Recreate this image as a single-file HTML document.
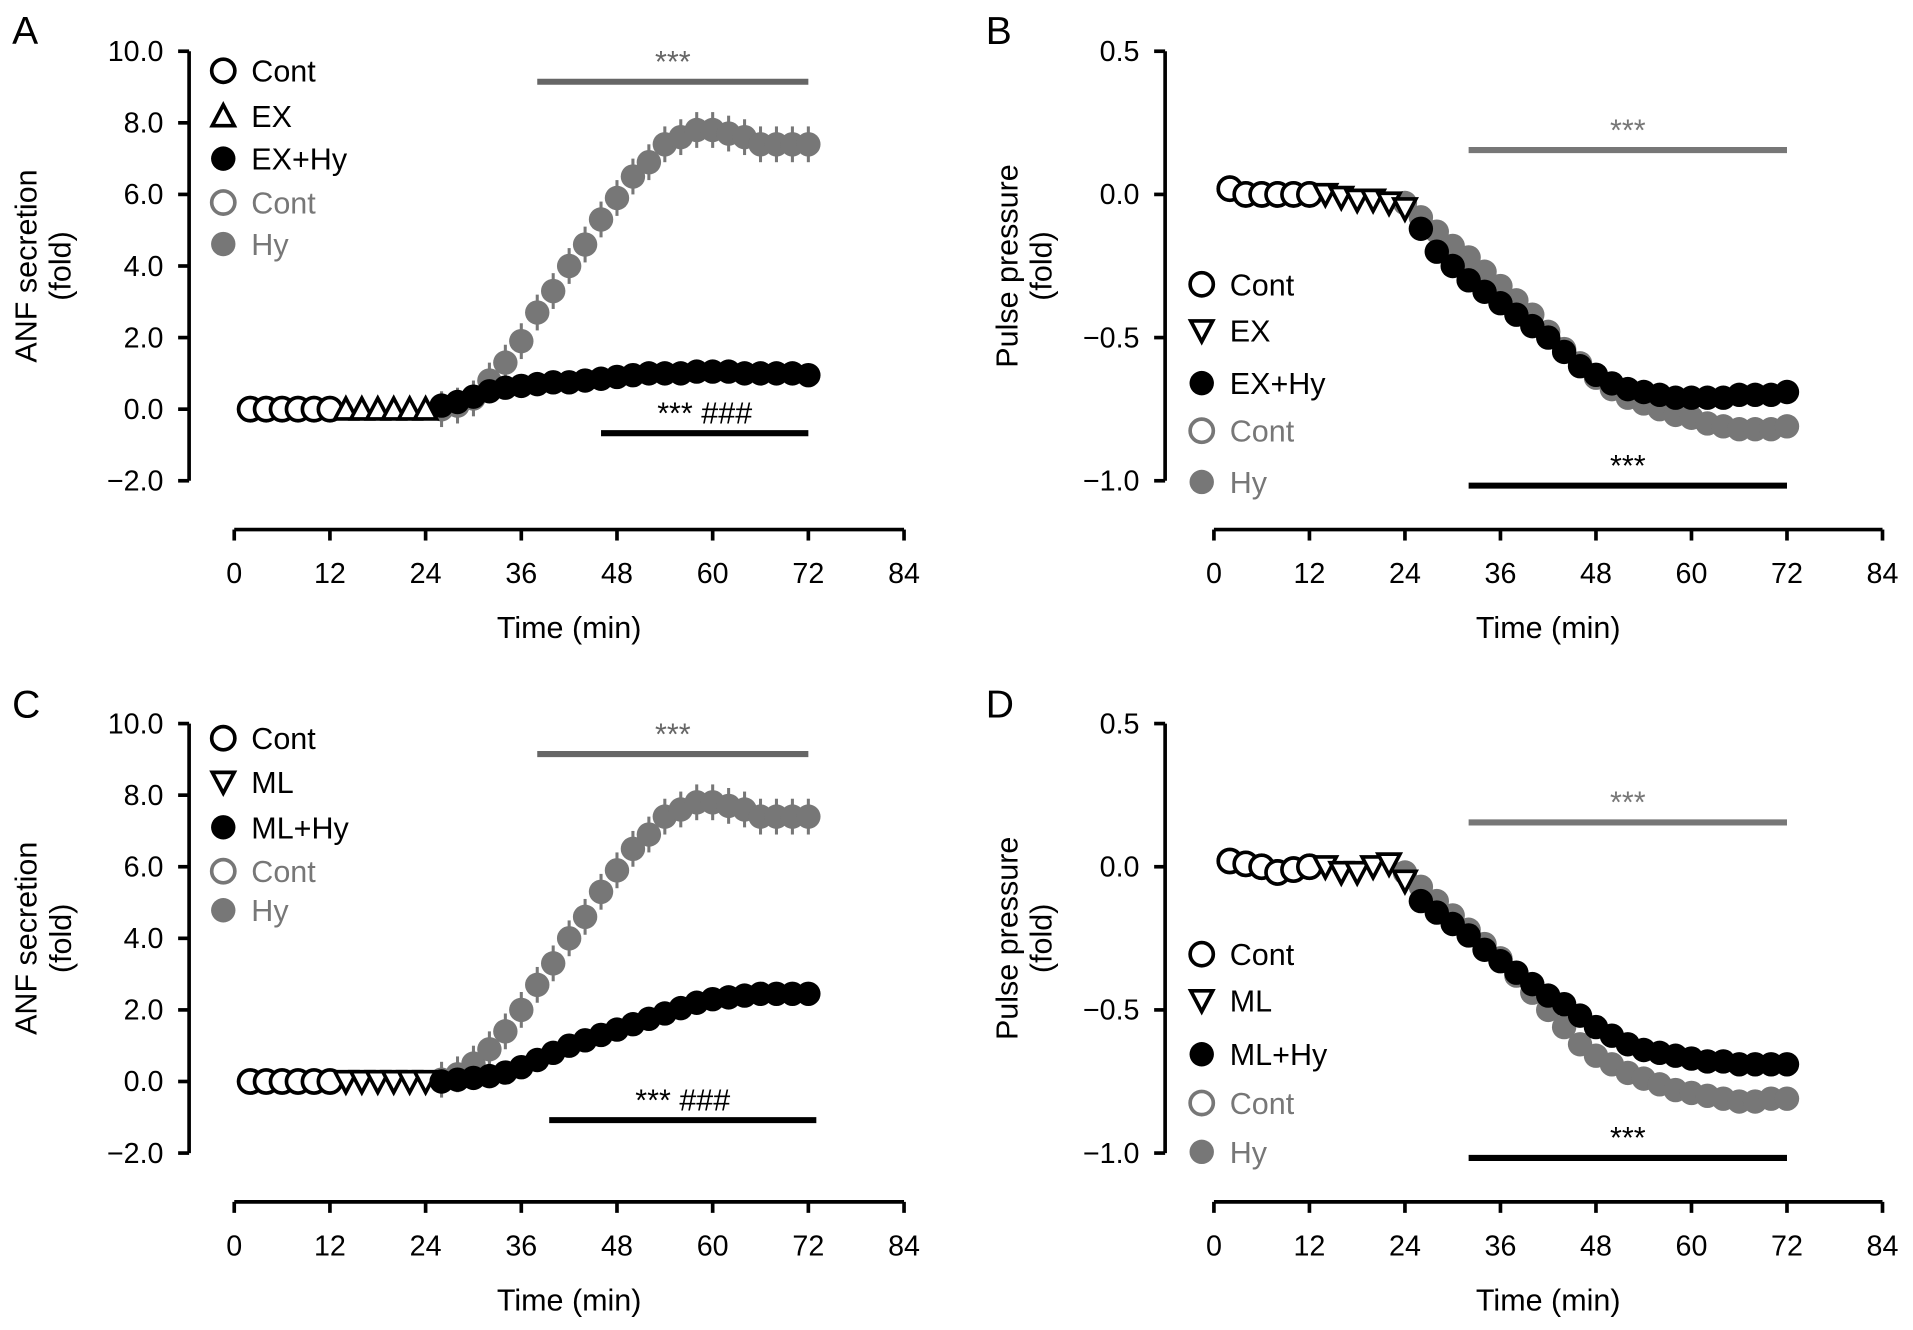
<!DOCTYPE html>
<html><head><meta charset="utf-8"><style>
html,body{margin:0;padding:0;background:#fff}
svg{display:block}
text{font-family:"Liberation Sans",Arial,sans-serif}
</style></head><body>
<svg id="fig" width="1913" height="1330" viewBox="0 0 1568 1090" preserveAspectRatio="none" xmlns="http://www.w3.org/2000/svg"></svg>
<script>
// ---- data ----
const tCont = [2,4,6,8,10,12];
const tDrug = [14,16,18,20,22,24];
const tHy = [26,28,30,32,34,36,38,40,42,44,46,48,50,52,54,56,58,60,62,64,66,68,70,72];
const tHyB = [24,26,28,30,32,34,36,38,40,42,44,46,48,50,52,54,56,58,60,62,64,66,68,70,72];

const aCont = [0,0,0,0,0,0];
const aEX = [0,0,0,0,0,0];
const aEXHy = [0.1,0.2,0.35,0.5,0.6,0.65,0.7,0.75,0.75,0.8,0.85,0.9,0.95,1.0,1.0,1.0,1.05,1.05,1.05,1.0,1.0,1.0,1.0,0.95];
const aHy = [0,0.1,0.3,0.8,1.3,1.9,2.7,3.3,4.0,4.6,5.3,5.9,6.5,6.9,7.4,7.6,7.8,7.8,7.7,7.6,7.4,7.4,7.4,7.4];

const cCont = [0,0,0,0,0,0];
const cML = [0,0,0,0,0,0];
const cMLHy = [0,0.05,0.1,0.15,0.25,0.4,0.6,0.8,1.0,1.15,1.3,1.45,1.6,1.75,1.9,2.05,2.2,2.3,2.35,2.4,2.45,2.45,2.45,2.45];
const cHy = [0.05,0.2,0.5,0.9,1.4,2.0,2.7,3.3,4.0,4.6,5.3,5.9,6.5,6.9,7.4,7.6,7.8,7.8,7.7,7.6,7.4,7.4,7.4,7.4];

const bCont = [0.02,0.0,0.0,0.0,0.0,0.0];
const bEX = [0.0,-0.01,-0.02,-0.02,-0.03,-0.05];
const bEXHy = [-0.12,-0.2,-0.25,-0.3,-0.34,-0.38,-0.42,-0.46,-0.5,-0.55,-0.6,-0.63,-0.66,-0.68,-0.69,-0.7,-0.71,-0.71,-0.71,-0.71,-0.7,-0.7,-0.7,-0.69];
const bHy = [-0.03,-0.08,-0.13,-0.18,-0.22,-0.27,-0.32,-0.37,-0.42,-0.48,-0.54,-0.59,-0.64,-0.68,-0.71,-0.73,-0.75,-0.77,-0.78,-0.8,-0.81,-0.82,-0.82,-0.82,-0.81];

const dCont = [0.02,0.01,0.0,-0.02,-0.01,0.0];
const dML = [0.0,-0.02,-0.02,0.0,0.01,-0.05];
const dMLHy = [-0.12,-0.16,-0.2,-0.24,-0.29,-0.33,-0.37,-0.41,-0.45,-0.48,-0.52,-0.56,-0.59,-0.62,-0.64,-0.65,-0.66,-0.67,-0.68,-0.68,-0.69,-0.69,-0.69,-0.69];
const dHy = [-0.02,-0.07,-0.12,-0.17,-0.22,-0.27,-0.32,-0.38,-0.44,-0.5,-0.56,-0.62,-0.66,-0.69,-0.72,-0.74,-0.76,-0.78,-0.79,-0.8,-0.81,-0.82,-0.82,-0.81,-0.81];

const xTicks = [0,12,24,36,48,60,72,84];
const anfTicks = [10,8,6,4,2,0,-2];
const ppTicks = [0.5,0,-0.5,-1.0];

const NS="http://www.w3.org/2000/svg";
const svg=document.getElementById('fig');
function mk(tag,attrs,parent){const e=document.createElementNS(NS,tag);for(const k in attrs)e.setAttribute(k,attrs[k]);(parent||svg).appendChild(e);return e;}
function txt(s,attrs,parent){const e=mk('text',attrs,parent);e.textContent=s;return e;}

function panel(cfg){
  const g=mk('g',{});
  
  
  const X=t=>cfg.x0+(t/84)*(cfg.x84-cfg.x0);
  const Y=v=>cfg.yTop+(cfg.ymax-v)/(cfg.ymax-cfg.ymin)*(cfg.yBot-cfg.yTop);
  const lab=txt(cfg.letter,{x:cfg.lx,y:cfg.ly,'font-size':32},g);
  
  const ya=mk('g',{},g);
  mk('line',{x1:cfg.ax,y1:Y(cfg.ymax),x2:cfg.ax,y2:Y(cfg.ymin),stroke:'#000','stroke-width':3},ya);
  cfg.yticks.forEach(v=>{
    mk('line',{x1:cfg.ax-9,y1:Y(v),x2:cfg.ax,y2:Y(v),stroke:'#000','stroke-width':3},ya);
    const s=(v<0?'\u2212':'')+Math.abs(v).toFixed(1);
    const t=txt(s,{x:cfg.ax-21,y:Y(v)+8,'font-size':23.5,'text-anchor':'end'},ya);
    
  });
  const cy=(Y(cfg.ymax)+Y(cfg.ymin))/2;
  const yt=mk('g',{},g);
  txt(cfg.ytitle,{x:cfg.tx,y:cy+cfg.tdy,'font-size':25,'text-anchor':'middle',transform:`rotate(-90 ${cfg.tx} ${cy+cfg.tdy})`},yt);
  txt('(fold)',{x:cfg.tx+28,y:cy+cfg.tdy,'font-size':25,'text-anchor':'middle',transform:`rotate(-90 ${cfg.tx+28} ${cy+cfg.tdy})`},yt);
  const xa=mk('g',{},g);
  mk('line',{x1:X(0),y1:cfg.xay,x2:X(84),y2:cfg.xay,stroke:'#000','stroke-width':3},xa);
  xTicks.forEach(t=>{
    mk('line',{x1:X(t),y1:cfg.xay,x2:X(t),y2:cfg.xay+9,stroke:'#000','stroke-width':3},xa);
    const e=txt(String(t),{x:X(t),y:cfg.xay+44,'font-size':23.5,'text-anchor':'middle'},xa);
    
  });
  const xt=txt('Time (min)',{x:(X(0)+X(84))/2,y:cfg.xay+89,'font-size':25,'text-anchor':'middle'},g);
  
  cfg.sig.forEach(s=>{
    const sg=mk('g',{},g);
    mk('line',{x1:X(s.t0),y1:s.y,x2:X(s.t1),y2:s.y,stroke:s.c,'stroke-width':5},sg);
    txt(s.label,{x:(X(s.t0)+X(s.t1))/2+(s.dx||0),y:s.y-8,'font-size':25,'text-anchor':'middle',fill:s.c},sg);
  });
  const R=9.5;
  function marker(par,shape,x,y,col){
    if(shape==='open') return mk('circle',{cx:x,cy:y,r:R,fill:'#fff',stroke:col,'stroke-width':3},par);
    if(shape==='fill') return mk('circle',{cx:x,cy:y,r:R+0.5,fill:col},par);
    if(shape==='tri') return mk('polygon',{points:`${x-9},${y+8} ${x+9},${y+8} ${x},${y-9}`,fill:'#fff',stroke:col,'stroke-width':3},par);
    if(shape==='tridown') return mk('polygon',{points:`${x-9},${y-8} ${x+9},${y-8} ${x},${y+9}`,fill:'#fff',stroke:col,'stroke-width':3},par);
  }
  cfg.series.forEach(s=>{
    const sg=mk('g',{},g);
    s.t.forEach((t,i)=>{
      if(s.err){mk('line',{x1:X(t),y1:Y(s.v[i]+s.err),x2:X(t),y2:Y(s.v[i]-s.err),stroke:s.c,'stroke-width':2.5},sg);}
      const m=marker(sg,s.shape,X(t),Y(s.v[i]),s.c);
      
    });
  });
  const lg=mk('g',{},g);
  cfg.legend.forEach((L,i)=>{
    const eg=mk('g',{},lg);
    marker(eg,L.shape,cfg.legx,L.y,L.c);
    txt(L.label,{x:cfg.legx+23,y:L.y+9,'font-size':25,fill:L.tc||'#000'},eg);
  });
}
const G='#777';
function leg(drug,shapeDrug,ys){return [
  {shape:'open',c:'#000',label:'Cont',y:ys[0]},
  {shape:shapeDrug,c:'#000',label:drug,y:ys[1]},
  {shape:'fill',c:'#000',label:drug+'+Hy',y:ys[2]},
  {shape:'open',c:G,label:'Cont',y:ys[3],tc:'#777'},
  {shape:'fill',c:G,label:'Hy',y:ys[4],tc:'#777'}];}

panel({name:'panel-a',letter:'A',lx:10,ly:36,x0:192,x84:741,ax:155,yTop:42,yBot:394,ymax:10,ymin:-2,yticks:anfTicks,
  ytitle:'ANF secretion',tx:30,tdy:0,xay:434,
  sig:[{name:'sig-bar-hy',t0:38,t1:72,y:67,c:'#666',label:'***'},{name:'sig-bar-exhy',t0:46,t1:72,y:355,c:'#000',label:'***   ###'}],
  series:[
    {name:'series-cont-grey',t:tCont,v:aCont,shape:'open',c:G},
    {name:'series-hy',t:tHy,v:aHy,shape:'fill',c:G,err:0.5},
    {name:'series-cont',t:tCont,v:aCont,shape:'open',c:'#000'},
    {name:'series-ex',t:tDrug,v:aEX,shape:'tri',c:'#000'},
    {name:'series-ex-hy',t:tHy,v:aEXHy,shape:'fill',c:'#000'}],
  legx:183,legend:leg('EX','tri',[58,95,130,166,200])});

panel({name:'panel-b',letter:'B',lx:808,ly:36,x0:995,x84:1543,ax:955,yTop:42,yBot:394,ymax:0.5,ymin:-1.0,yticks:ppTicks,
  ytitle:'Pulse pressure',tx:834,tdy:0,xay:434,
  sig:[{name:'sig-bar-hy',t0:32,t1:72,y:123,c:'#777',label:'***'},{name:'sig-bar-exhy',t0:32,t1:72,y:398,c:'#000',label:'***'}],
  series:[
    {name:'series-cont-grey',t:tCont,v:bCont,shape:'open',c:G},
    {name:'series-hy',t:tHyB,v:bHy,shape:'fill',c:G},
    {name:'series-cont',t:tCont,v:bCont,shape:'open',c:'#000'},
    {name:'series-ex',t:tDrug,v:bEX,shape:'tridown',c:'#000'},
    {name:'series-ex-hy',t:tHy,v:bEXHy,shape:'fill',c:'#000'}],
  legx:985,legend:leg('EX','tridown',[233,271,314,353,395])});

panel({name:'panel-c',letter:'C',lx:10,ly:588,x0:192,x84:741,ax:155,yTop:593,yBot:945,ymax:10,ymin:-2,yticks:anfTicks,
  ytitle:'ANF secretion',tx:30,tdy:0,xay:985,
  sig:[{name:'sig-bar-hy',t0:38,t1:72,y:618,c:'#666',label:'***'},{name:'sig-bar-mlhy',t0:39.5,t1:73,y:918,c:'#000',label:'*** ###'}],
  series:[
    {name:'series-cont-grey',t:tCont,v:cCont,shape:'open',c:G},
    {name:'series-hy',t:tHy,v:cHy,shape:'fill',c:G,err:0.5},
    {name:'series-cont',t:tCont,v:cCont,shape:'open',c:'#000'},
    {name:'series-ml',t:tDrug,v:cML,shape:'tridown',c:'#000'},
    {name:'series-ml-hy',t:tHy,v:cMLHy,shape:'fill',c:'#000'}],
  legx:183,legend:leg('ML','tridown',[605,641,678,714,746])});

panel({name:'panel-d',letter:'D',lx:808,ly:588,x0:995,x84:1543,ax:955,yTop:593,yBot:945,ymax:0.5,ymin:-1.0,yticks:ppTicks,
  ytitle:'Pulse pressure',tx:834,tdy:0,xay:985,
  sig:[{name:'sig-bar-hy',t0:32,t1:72,y:674,c:'#777',label:'***'},{name:'sig-bar-mlhy',t0:32,t1:72,y:949,c:'#000',label:'***'}],
  series:[
    {name:'series-cont-grey',t:tCont,v:dCont,shape:'open',c:G},
    {name:'series-hy',t:tHyB,v:dHy,shape:'fill',c:G},
    {name:'series-cont',t:tCont,v:dCont,shape:'open',c:'#000'},
    {name:'series-ml',t:tDrug,v:dML,shape:'tridown',c:'#000'},
    {name:'series-ml-hy',t:tHy,v:dMLHy,shape:'fill',c:'#000',err:0.04}],
  legx:985,legend:leg('ML','tridown',[782,820,864,904,944])});
</script>
</body></html>
